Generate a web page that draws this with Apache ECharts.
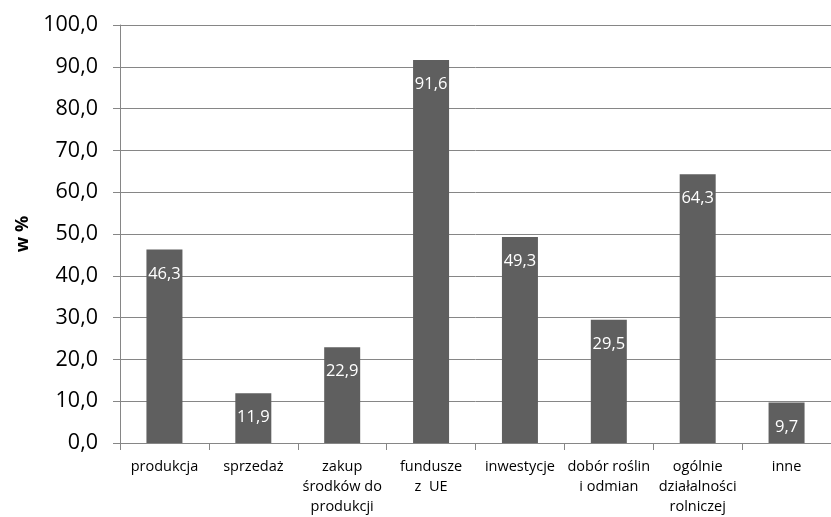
<!DOCTYPE html>
<html>
<head>
<meta charset="utf-8">
<script src="https://cdn.jsdelivr.net/npm/echarts@6/dist/echarts.min.js"></script>
<style>
  html, body { margin: 0; padding: 0; background: #fff; }
  #chart { width: 831px; height: 517px; }
</style>
</head>
<body>
<div id="chart"></div>
<script>
// kategorie i wartości (w %)
var categories = [
  'produkcja',
  'sprzedaż',
  'zakup\nśrodków do\nprodukcji',
  'fundusze\nz  UE',
  'inwestycje',
  'dobór roślin\ni odmian',
  'ogólnie\ndziałalności\nrolniczej',
  'inne'
]
var values = [46.3, 11.9, 22.9, 91.6, 49.3, 29.5, 64.3, 9.7]
var yMin = 0
var yMax = 100
var yStep = 10

var fmt = function(v) {
  return Number(v).toFixed(1).replace('.', ',')
}

var chart = echarts.init(document.getElementById('chart'))
chart.setOption({
  animation: false,
  textStyle: { fontFamily: 'Open Sans' },
  grid: {
    left: 120,
    right: -11,
    top: 25,
    bottom: 72
  },
  xAxis: {
    type: 'category',
    data: categories,
    axisLine: { lineStyle: { color: '#868686', width: 1 } },
    axisTick: { show: true, length: 7, lineStyle: { color: '#868686' } },
    axisLabel: {
      color: '#000',
      fontSize: 14.5,
      lineHeight: 20,
      margin: 14,
      interval: 0,
      align: 'center'
    }
  },
  yAxis: {
    type: 'value',
    min: yMin,
    max: yMax,
    interval: yStep,
    name: 'w %',
    nameLocation: 'middle',
    nameGap: 86,
    nameTextStyle: { color: '#000', fontSize: 18, fontWeight: 'bold' },
    axisLine: { show: true, lineStyle: { color: '#868686', width: 1 } },
    axisTick: { show: true, length: 7, lineStyle: { color: '#868686' } },
    axisLabel: {
      color: '#000',
      fontSize: 21.5,
      margin: 22,
      formatter: fmt
    },
    splitLine: { lineStyle: { color: '#868686', width: 1 } }
  },
  series: [
    {
      type: 'bar',
      data: values,
      barWidth: 36,
      itemStyle: { color: '#5f5f5f' },
      label: {
        show: true,
        position: 'insideTop',
        distance: 16,
        color: '#fff',
        fontSize: 16.5,
        formatter: function(p) { return fmt(p.value) }
      }
    }
  ]
})
</script>
</body>
</html>
